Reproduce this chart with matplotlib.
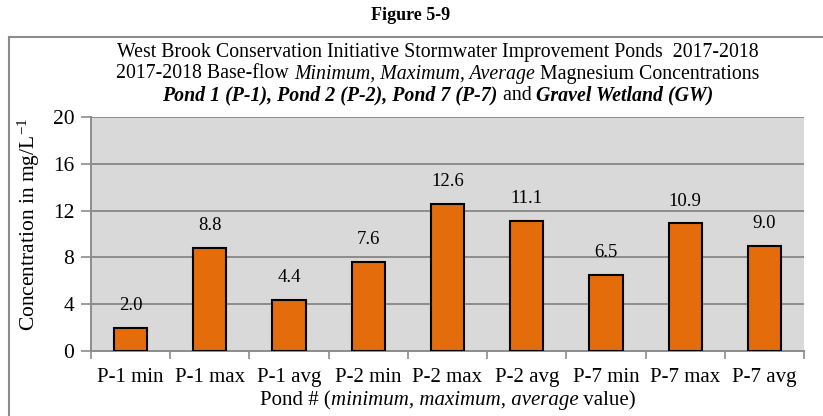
import matplotlib
matplotlib.use("Agg")
import matplotlib.pyplot as plt
from matplotlib.lines import Line2D

categories = ["P-1 min", "P-1 max", "P-1 avg", "P-2 min", "P-2 max",
              "P-2 avg", "P-7 min", "P-7 max", "P-7 avg"]
values = [2.0, 8.8, 4.4, 7.6, 12.6, 11.1, 6.5, 10.9, 9.0]
yticks = [0, 4, 8, 12, 16, 20]

FONT = "Liberation Serif"
W, H = 823, 416

plt.rcParams["mathtext.fontset"] = "custom"
plt.rcParams["mathtext.rm"] = FONT
plt.rcParams["mathtext.it"] = FONT + ":italic"

fig = plt.figure(figsize=(W / 100, H / 100), dpi=100)
ax = fig.add_axes([91 / W, 1 - 351 / H, (804 - 91) / W, (351 - 117) / H])

x = list(range(len(categories)))
ax.set_facecolor("#d9d9d9")
ax.bar(x, values, width=0.42, color="#e46c0a", edgecolor="black", linewidth=1.5, zorder=3)
for xi, v in zip(x, values):
    ax.annotate(f"{v:.1f}", (xi, v), xytext=(0, 10), textcoords="offset points",
                ha="center", va="bottom", fontsize=13.5, family=FONT)

ax.set_ylim(0, 20)
ax.set_xlim(-0.5, len(categories) - 0.5)
ax.set_yticks(yticks)
ax.set_yticklabels([str(t) for t in yticks], fontsize=15.5, family=FONT)
ax.yaxis.grid(True, color="#8c8c8c", linewidth=1.4, zorder=0)
ax.set_axisbelow(True)

# category labels sit between the boundary ticks
ax.set_xticks([i - 0.5 for i in range(len(categories) + 1)])
ax.set_xticklabels([])
ax.set_xticks(x, minor=True)
ax.set_xticklabels(categories, minor=True, fontsize=15, family=FONT)
ax.tick_params(axis="x", which="minor", length=0, pad=12)
ax.tick_params(axis="x", which="major", length=6, color="#8c8c8c", width=1.2)
ax.tick_params(axis="y", length=7, color="#8c8c8c", width=1.2, pad=5)

for s in ["top", "right"]:
    ax.spines[s].set_visible(False)
for s in ["left", "bottom"]:
    ax.spines[s].set_color("#8c8c8c")
    ax.spines[s].set_linewidth(1.4)

# y axis title placed directly in figure pixels
fig.text(29 / W, 1 - 224 / H, "Concentration in mg/L$^{\\mathrm{-1}}$", rotation=90,
         ha="center", va="center", fontsize=15.5, family=FONT)

# outer frame of the chart
fig.add_artist(Line2D([9 / W, 1], [1 - 37 / H, 1 - 37 / H], color="#8c8c8c", lw=1.5,
                      transform=fig.transFigure))
fig.add_artist(Line2D([9 / W, 9 / W], [1 - 37 / H, 0], color="#8c8c8c", lw=1.5,
                      transform=fig.transFigure))

fig.text(411 / W, 1 - 16 / H, "Figure 5-9", ha="center", va="center",
         fontsize=13, fontweight="bold", family=FONT)

renderer = fig.canvas.get_renderer()


def rich_line(segments, cx, cy, size):
    """Draw a centred line made of differently styled pieces (pixel coords)."""
    texts = []
    total = 0
    for txt, style, weight in segments:
        t = fig.text(0, 0, txt, fontsize=size, family=FONT, style=style,
                     fontweight=weight, va="center", ha="left")
        w = t.get_window_extent(renderer).width
        texts.append((t, w))
        total += w
    left = cx - total / 2
    for t, w in texts:
        t.set_position((left / W, 1 - cy / H))
        left += w


rich_line([("West Brook Conservation Initiative Stormwater Improvement Ponds  2017-2018",
            "normal", "normal")], 438, 53, 14.3)
rich_line([("2017-2018 Base-flow ", "normal", "normal"),
           ("Minimum, Maximum, Average", "italic", "normal"),
           (" Magnesium Concentrations", "normal", "normal")], 438, 74, 14.3)
rich_line([("Pond 1 (P-1), Pond 2 (P-2), Pond 7 (P-7)", "italic", "bold"),
           (" and ", "normal", "normal"),
           ("Gravel Wetland (GW)", "italic", "bold")], 438, 95, 14.3)
rich_line([("Pond # (", "normal", "normal"),
           ("minimum, maximum, average", "italic", "normal"),
           (" value)", "normal", "normal")], 448, 401, 15)

fig.savefig("out.png", dpi=100)
